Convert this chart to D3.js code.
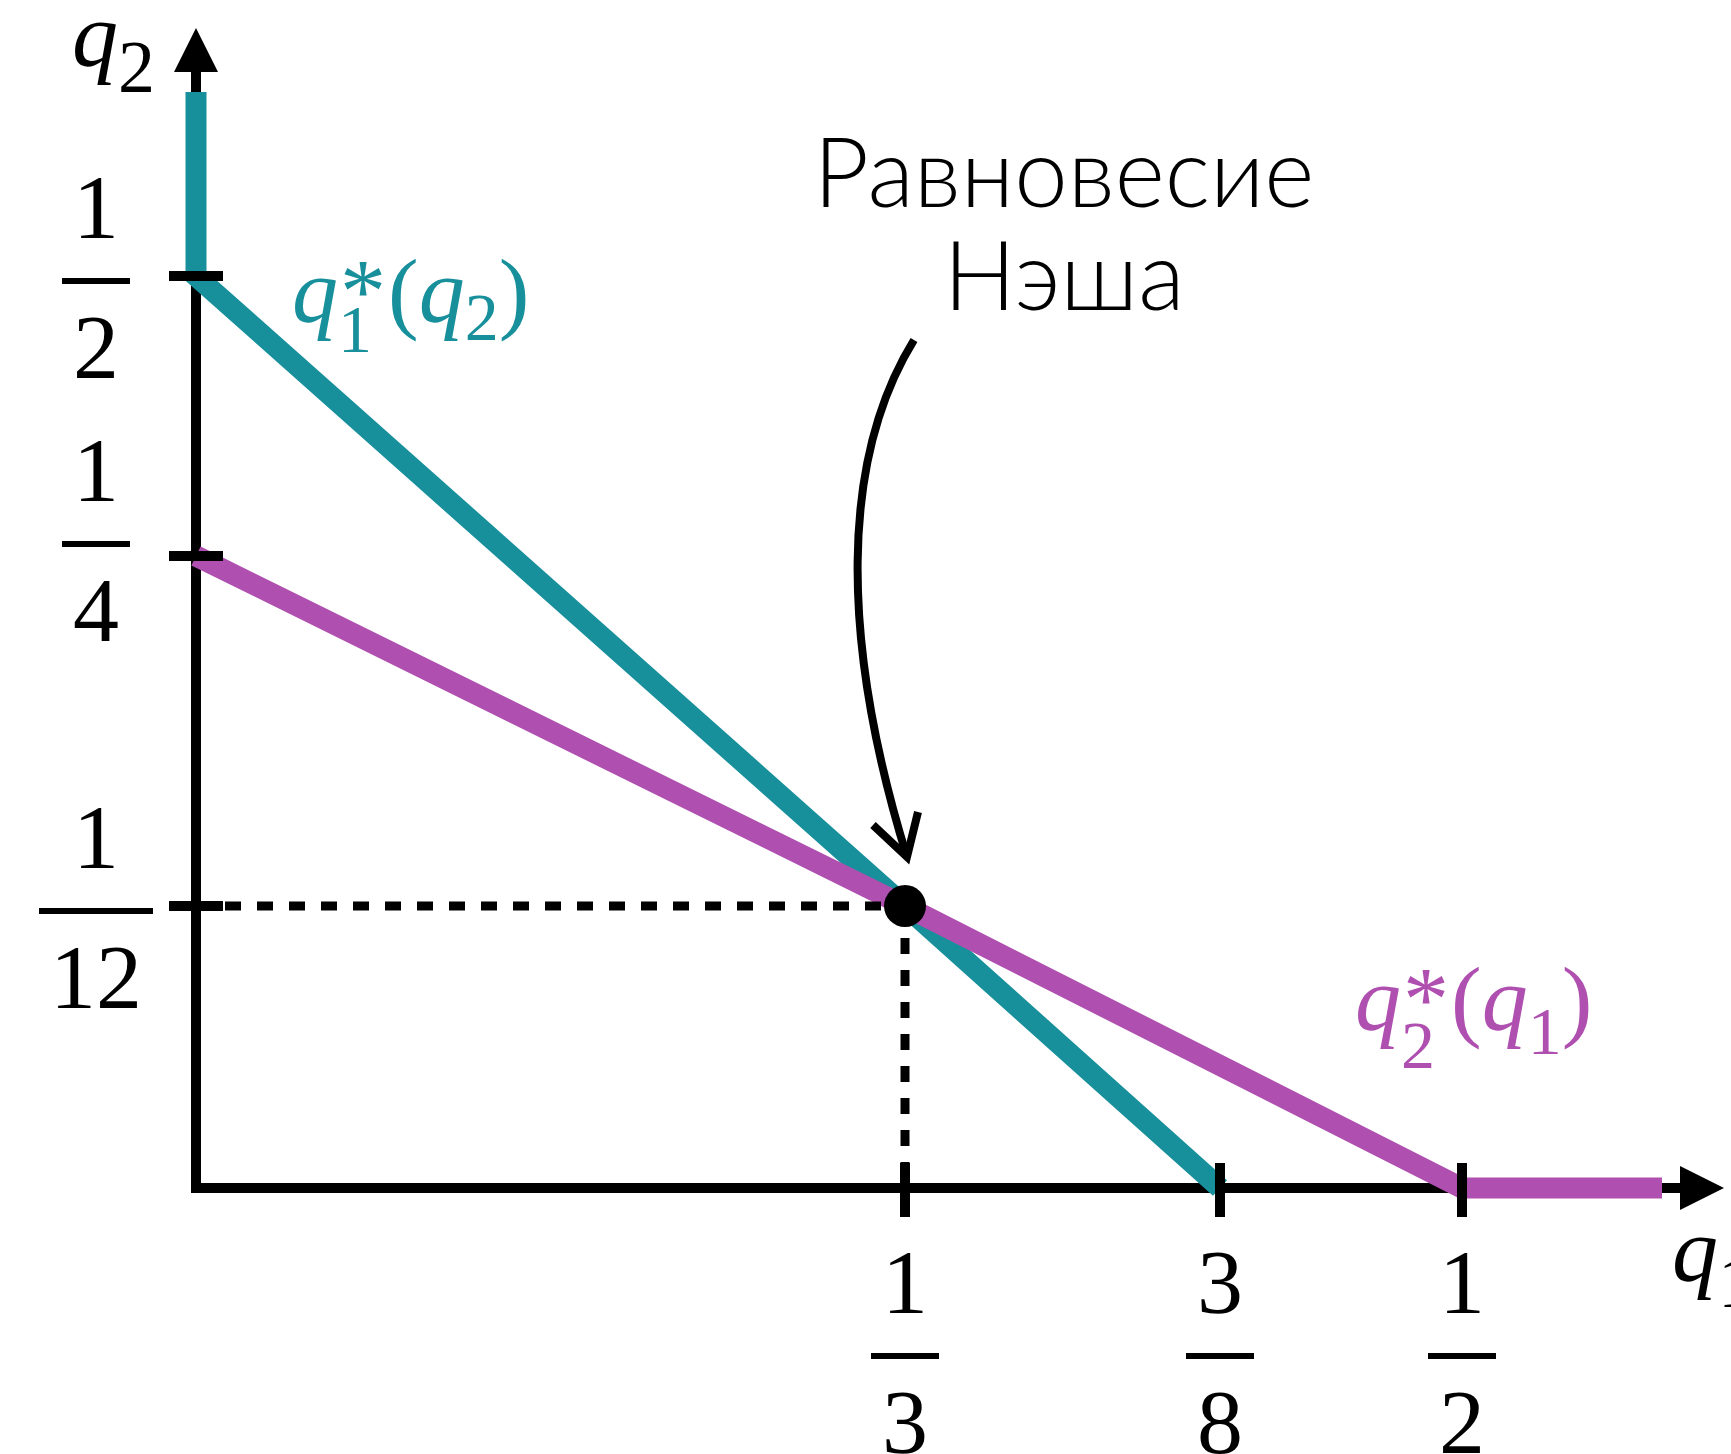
<!DOCTYPE html>
<html>
<head>
<meta charset="utf-8">
<script src="https://cdn.jsdelivr.net/npm/d3@7"></script>
<style>
  body { margin: 0; background: #fff; }
</style>
</head>
<body>
<script>
// Tick values on both axes (schematic, not to scale)
var xTicks = [1/3, 3/8, 1/2];
var xTickLabels = [["1", "3"], ["3", "8"], ["1", "2"]];
var yTicks = [1/12, 1/4, 1/2];
var yTickLabels = [["1", "12"], ["1", "4"], ["1", "2"]];

// Where the drawn curves stop
var qEnd = 0.6;

// Best responses, as [q1, q2] points
var br1 = [[0, qEnd], [0, 1/2], [1/3, 1/12], [3/8, 0]];   // q1*(q2)
var br2 = [[0, 1/4], [1/3, 1/12], [1/2, 0], [qEnd, 0]];   // q2*(q1)

// Nash equilibrium
var nash = [1/3, 1/12];
var nashText = ["Равновесие", "Нэша"];

var teal = "#18909c";
var purple = "#af4fb0";

var width = 1731, height = 1454;

var svg = d3.select("body")
  .append("svg")
  .attr("width", width)
  .attr("height", height);

// piecewise scales so the ticks sit where the sketch puts them
var x = d3.scaleLinear()
  .domain([0, 1/3, 3/8, 1/2, qEnd])
  .range([196, 905, 1220, 1462, 1662]);
var y = d3.scaleLinear()
  .domain([0, 1/12, 1/4, 1/2, qEnd])
  .range([1188, 906, 556, 276, 92]);

var x0 = x(0), y0 = y(0);

// Axes
svg.append("line")
  .attr("x1", x0).attr("y1", y0)
  .attr("x2", x0).attr("y2", 72)
  .attr("stroke", "black").attr("stroke-width", 10)
  .attr("stroke-linecap", "square");
svg.append("line")
  .attr("x1", x0).attr("y1", y0)
  .attr("x2", 1680).attr("y2", y0)
  .attr("stroke", "black").attr("stroke-width", 10)
  .attr("stroke-linecap", "square");
svg.append("path")
  .attr("d", "M" + (x0 - 22) + ",72L" + x0 + ",28L" + (x0 + 22) + ",72Z")
  .attr("fill", "black");
svg.append("path")
  .attr("d", "M1680," + (y0 - 22) + "L1724," + y0 + "L1680," + (y0 + 22) + "Z")
  .attr("fill", "black");

// Best response curves
var line = d3.line()
  .x(function(d) { return x(d[0]); })
  .y(function(d) { return y(d[1]); });

svg.append("path")
  .attr("d", line(br1))
  .attr("fill", "none")
  .attr("stroke", teal)
  .attr("stroke-width", 21)
  .attr("stroke-linejoin", "miter");
svg.append("path")
  .attr("d", line(br2))
  .attr("fill", "none")
  .attr("stroke", purple)
  .attr("stroke-width", 21)
  .attr("stroke-linejoin", "miter");

// Dashed guides to the equilibrium
svg.append("line")
  .attr("x1", x0 + 29).attr("y1", y(nash[1]))
  .attr("x2", x(nash[0])).attr("y2", y(nash[1]))
  .attr("stroke", "black").attr("stroke-width", 9)
  .attr("stroke-dasharray", "16,16");
svg.append("line")
  .attr("x1", x(nash[0])).attr("y1", y(nash[1]))
  .attr("x2", x(nash[0])).attr("y2", y0 - 25)
  .attr("stroke", "black").attr("stroke-width", 9)
  .attr("stroke-dasharray", "16,16");

// Ticks
svg.selectAll(".ytick")
  .data(yTicks)
  .enter().append("line")
    .attr("class", "ytick")
    .attr("x1", x0 - 27).attr("x2", x0 + 27)
    .attr("y1", function(d) { return y(d); })
    .attr("y2", function(d) { return y(d); })
    .attr("stroke", "black").attr("stroke-width", 10);
svg.selectAll(".xtick")
  .data(xTicks)
  .enter().append("line")
    .attr("class", "xtick")
    .attr("y1", y0 - 25).attr("y2", y0 + 29)
    .attr("x1", function(d) { return x(d); })
    .attr("x2", function(d) { return x(d); })
    .attr("stroke", "black").attr("stroke-width", 10);

// Equilibrium dot
svg.append("circle")
  .attr("cx", x(nash[0]))
  .attr("cy", y(nash[1]))
  .attr("r", 21)
  .attr("fill", "black");

// Fraction labels
var fracSize = 92;
function fraction(cx, barY, num, den) {
  var g = svg.append("g")
    .attr("font-family", "'Liberation Serif', 'Times New Roman', serif")
    .attr("font-size", fracSize)
    .attr("text-anchor", "middle");
  var t1 = g.append("text").attr("x", cx).attr("y", barY - 43).text(num);
  var t2 = g.append("text").attr("x", cx).attr("y", barY + 97).text(den);
  var w = Math.max(t1.node().getComputedTextLength(), t2.node().getComputedTextLength()) + 22;
  g.append("rect")
    .attr("x", cx - w / 2).attr("y", barY - 3)
    .attr("width", w).attr("height", 6)
    .attr("fill", "black");
}

var yLabelNudge = [5, -12, 5];
yTicks.forEach(function(d, i) {
  fraction(96, y(d) + yLabelNudge[i], yTickLabels[i][0], yTickLabels[i][1]);
});
xTicks.forEach(function(d, i) {
  fraction(x(d), 1356, xTickLabels[i][0], xTickLabels[i][1]);
});

// Math labels built piece by piece
function mathLabel(x, y, color, parts) {
  var g = svg.append("g")
    .attr("font-family", "'Liberation Serif', 'Times New Roman', serif")
    .attr("fill", color);
  var cursor = x, stackStart = x, stackEnd = x;
  parts.forEach(function(p) {
    var px = p.stack ? stackStart : cursor;
    var t = g.append("text")
      .attr("x", px + (p.dx || 0))
      .attr("y", y + (p.dy || 0))
      .attr("font-size", p.size)
      .attr("font-style", p.italic ? "italic" : "normal")
      .text(p.t);
    var w = t.node().getComputedTextLength() + (p.dx || 0);
    if (p.stack) {
      cursor = Math.max(stackEnd, px + w);
    } else {
      stackStart = px;
      stackEnd = px + w;
      cursor = px + w;
    }
  });
}

mathLabel(292, 322, teal, [
  {t: "q", size: 92, italic: true},
  {t: "1", size: 68, dy: 30},
  {t: "*", size: 92, stack: true, dx: 2},
  {t: "(", size: 92, dx: 2},
  {t: "q", size: 92, italic: true},
  {t: "2", size: 68, dy: 18},
  {t: ")", size: 92, dx: 0}
]);
mathLabel(1355, 1030, purple, [
  {t: "q", size: 92, italic: true},
  {t: "2", size: 68, dy: 38},
  {t: "*", size: 92, stack: true, dx: 2},
  {t: "(", size: 92, dx: 2},
  {t: "q", size: 92, italic: true},
  {t: "1", size: 68, dy: 24},
  {t: ")", size: 92, dx: 0}
]);

// Axis names
mathLabel(72, 66, "black", [
  {t: "q", size: 92, italic: true},
  {t: "2", size: 74, dy: 26}
]);
mathLabel(1672, 1281, "black", [
  {t: "q", size: 92, italic: true},
  {t: "1", size: 74, dy: 26}
]);

// Annotation
svg.append("text")
  .attr("x", 1064)
  .attr("y", 207)
  .attr("text-anchor", "middle")
  .attr("font-family", "Lato, 'Open Sans', sans-serif")
  .attr("font-weight", 300)
  .attr("font-size", 96)
  .selectAll("tspan")
  .data(nashText)
  .enter().append("tspan")
    .attr("x", 1064)
    .attr("dy", function(d, i) { return i ? 103 : 0; })
    .text(function(d) { return d; });

var tipX = x(nash[0]) + 2, tipY = y(nash[1]) - 49;
var p = d3.path();
p.moveTo(914, 340);
p.bezierCurveTo(840, 460, 840, 640, tipX, tipY);
svg.append("path")
  .attr("d", p.toString())
  .attr("fill", "none")
  .attr("stroke", "black")
  .attr("stroke-width", 8);
svg.append("path")
  .attr("d", "M" + (tipX - 34) + "," + (tipY - 32) + "L" + tipX + "," + tipY + "L" + (tipX + 11) + "," + (tipY - 45))
  .attr("fill", "none")
  .attr("stroke", "black")
  .attr("stroke-width", 8)
  .attr("stroke-linejoin", "miter");
</script>
</body>
</html>
